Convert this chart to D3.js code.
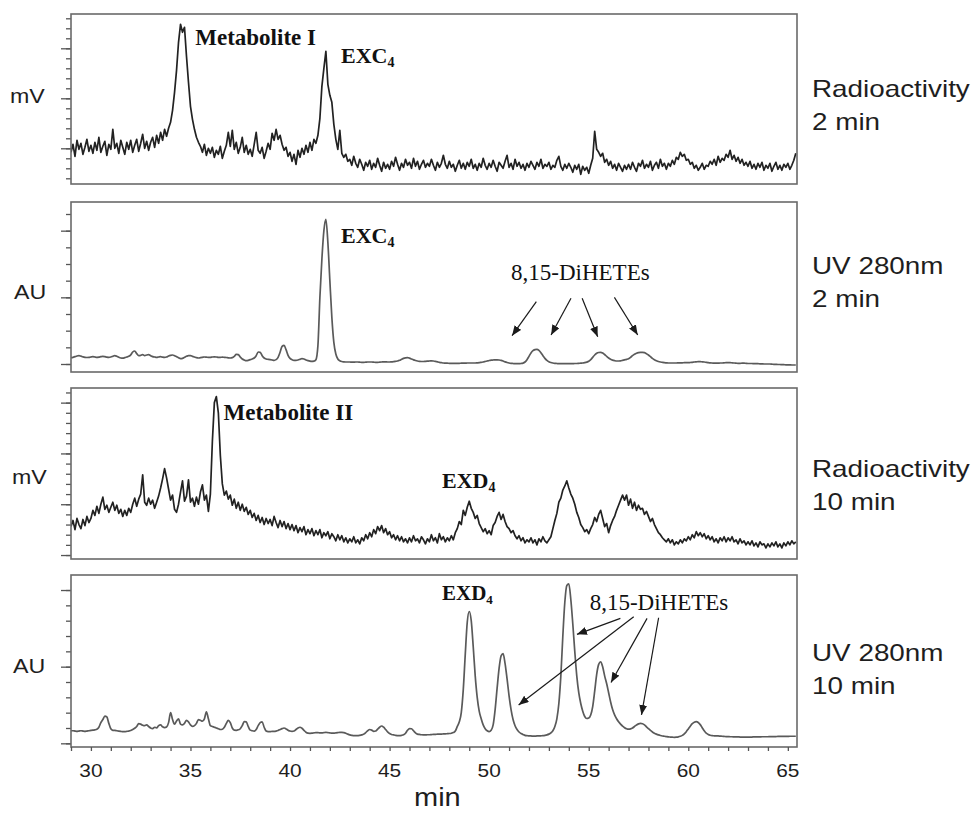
<!DOCTYPE html>
<html>
<head>
<meta charset="utf-8">
<script src="https://cdn.jsdelivr.net/npm/d3@7"></script>
<style>
  body { margin: 0; background: #fff; }
  svg { display: block; }
</style>
</head>
<body>
<svg id="chart" width="972" height="814"></svg>
<script>
// Retention-time grid shared by all four traces (minutes)
const timeStart = 29.0;
const timeStep = 0.1;

// Radioactivity detector, 2 min incubation (mV, arbitrary scale)
const radio2min = [
  2.6, 3.4, 2.2, 3.8, 2.9, 3.5, 2.4, 3.1, 3.9, 2.7,
  3.3, 2.5, 3.6, 2.8, 4.1, 2.6, 3.2, 3.7, 2.3, 3.4,
  2.9, 4.9, 3.0, 3.5, 2.5, 3.8, 3.1, 2.4, 3.6, 2.9,
  3.8, 2.6, 3.3, 3.9, 2.7, 3.5, 4.4, 3.0, 3.7, 2.8,
  3.6, 4.1, 3.1, 4.3, 3.5, 4.6, 3.8, 4.9, 4.2, 5.0,
  5.6, 6.8, 8.6, 10.8, 13.6, 15.4, 14.6, 15.1, 12.2, 9.6,
  7.2, 5.9, 4.9, 4.1, 3.6, 3.2, 2.6, 3.4, 2.3, 3.0,
  2.5, 3.1, 2.1, 2.8, 2.4, 3.2, 2.0, 2.7, 3.3, 4.6,
  3.2, 4.8, 2.9, 3.6, 2.5, 3.1, 4.1, 2.6, 3.3, 2.4,
  2.9, 2.2, 3.4, 4.6, 2.8, 2.5, 3.1, 2.0, 2.7, 3.5,
  2.9, 4.5, 3.8, 4.9, 3.9, 4.3, 3.4, 2.8, 3.1, 2.2,
  2.6, 1.7, 2.4, 1.4, 2.8, 2.1, 3.0, 2.4, 3.3, 2.6,
  3.6, 2.8, 3.9, 3.5, 4.3, 6.0, 9.2, 11.0, 12.7, 9.4,
  8.3, 7.6, 5.4, 3.9, 2.9, 4.8, 2.5, 2.1, 2.4, 1.7,
  1.9, 1.3, 2.2, 1.5, 1.1, 1.9, 1.4, 0.8, 1.6, 1.2,
  1.8, 0.9, 1.5, 1.1, 2.0, 1.3, 0.7, 1.6, 1.0, 1.4,
  0.9, 1.7, 1.2, 2.1, 1.4, 0.8, 1.5, 1.1, 1.9, 1.3,
  1.6, 1.0, 2.0, 1.2, 1.7, 0.9, 1.4, 1.8, 1.1, 1.5,
  1.2, 1.9, 1.3, 0.8, 1.6, 1.1, 1.5, 2.3, 1.4, 1.0,
  1.7, 1.1, 1.4, 0.7, 1.3, 1.8, 1.0, 1.5, 0.9, 1.6,
  1.2, 1.9, 1.0, 1.4, 0.8, 1.5, 1.1, 2.0, 1.3, 0.9,
  1.5, 1.1, 1.8, 1.2, 0.7, 1.6, 1.3, 1.0, 1.7, 2.3,
  1.1, 1.5, 0.9, 1.9, 1.2, 1.6, 1.0, 1.4, 0.8, 1.5,
  1.1, 1.7, 1.3, 0.9, 1.6, 1.2, 1.9, 1.0, 1.4, 1.2,
  1.6, 0.9, 1.3, 1.1, 1.8, 2.2, 1.2, 0.8, 1.4, 1.0,
  1.5, 1.1, 0.6, 1.3, 0.9, 1.4, 0.4, 1.2, 0.8, 1.1,
  0.5, 1.3, 2.0, 4.7, 2.9, 2.6, 2.2, 2.5, 1.6, 1.9,
  1.3, 1.7, 1.0, 1.4, 0.8, 1.5, 1.1, 0.7, 1.3, 0.9,
  1.4, 0.9, 1.6, 1.1, 0.7, 1.5, 1.2, 1.8, 1.0, 1.4,
  1.1, 1.7, 0.8, 1.3, 1.6, 1.0, 1.9, 1.2, 1.5, 0.9,
  1.5, 1.2, 1.8, 1.4, 2.1, 1.9, 2.6, 2.2, 2.4, 1.8,
  1.9, 1.4, 1.6, 1.0, 1.3, 0.8, 1.1, 1.5, 0.9, 1.3,
  1.2, 1.7, 1.4, 1.9, 1.3, 2.2, 1.6, 2.0, 1.8, 2.4,
  2.1, 2.8, 1.9, 2.3, 1.7, 2.1, 1.5, 1.9, 1.3, 1.6,
  1.2, 1.7, 1.0, 1.4, 0.9, 1.5, 1.1, 1.6, 0.8, 1.3,
  1.0, 1.5, 0.7, 1.2, 1.6, 0.9, 1.3, 0.8, 1.4, 1.1,
  1.5, 0.9, 1.3, 1.8, 2.5
];

// UV absorbance at 280 nm, 2 min incubation (AU, arbitrary scale)
const uv2min = [
  0.38, 0.40, 0.44, 0.48, 0.50, 0.47, 0.43, 0.40, 0.39, 0.40,
  0.42, 0.44, 0.42, 0.40, 0.41, 0.44, 0.46, 0.44, 0.41, 0.40,
  0.42, 0.46, 0.50, 0.46, 0.40, 0.36, 0.35, 0.38, 0.42, 0.46,
  0.55, 0.72, 0.78, 0.62, 0.50, 0.52, 0.56, 0.50, 0.54, 0.56,
  0.50, 0.44, 0.42, 0.40, 0.42, 0.44, 0.41, 0.40, 0.42, 0.48,
  0.52, 0.54, 0.50, 0.44, 0.38, 0.32, 0.34, 0.40, 0.46, 0.50,
  0.50, 0.46, 0.42, 0.38, 0.36, 0.38, 0.40, 0.42, 0.41, 0.40,
  0.40, 0.42, 0.43, 0.42, 0.40, 0.40, 0.41, 0.40, 0.39, 0.37,
  0.36, 0.38, 0.46, 0.58, 0.56, 0.42, 0.30, 0.24, 0.20, 0.22,
  0.26, 0.30, 0.36, 0.50, 0.72, 0.70, 0.50, 0.36, 0.30, 0.28,
  0.26, 0.24, 0.22, 0.26, 0.40, 0.70, 1.06, 1.12, 0.86, 0.52,
  0.34, 0.26, 0.22, 0.22, 0.24, 0.28, 0.32, 0.30, 0.24, 0.20,
  0.17, 0.16, 0.17, 0.26, 1.10, 4.00, 6.30, 8.00, 8.68, 7.30,
  5.00, 2.80, 1.30, 0.60, 0.30, 0.20, 0.15, 0.13, 0.12, 0.12,
  0.12, 0.11, 0.11, 0.12, 0.12, 0.11, 0.10, 0.10, 0.11, 0.12,
  0.12, 0.12, 0.11, 0.10, 0.10, 0.11, 0.12, 0.13, 0.13, 0.12,
  0.12, 0.13, 0.14, 0.16, 0.18, 0.22, 0.28, 0.34, 0.37, 0.38,
  0.35, 0.30, 0.25, 0.21, 0.18, 0.16, 0.15, 0.15, 0.16, 0.17,
  0.18, 0.19, 0.18, 0.16, 0.13, 0.10, 0.08, 0.06, 0.05, 0.05,
  0.04, 0.04, 0.04, 0.04, 0.04, 0.04, 0.05, 0.05, 0.05, 0.06,
  0.06, 0.06, 0.06, 0.06, 0.07, 0.08, 0.10, 0.12, 0.15, 0.18,
  0.21, 0.23, 0.24, 0.25, 0.25, 0.24, 0.22, 0.18, 0.13, 0.09,
  0.06, 0.04, 0.03, 0.02, 0.02, 0.02, 0.03, 0.05, 0.12, 0.26,
  0.46, 0.66, 0.80, 0.86, 0.88, 0.82, 0.68, 0.50, 0.34, 0.22,
  0.14, 0.09, 0.06, 0.04, 0.03, 0.02, 0.02, 0.02, 0.02, 0.02,
  0.02, 0.02, 0.02, 0.03, 0.03, 0.04, 0.05, 0.06, 0.08, 0.11,
  0.16, 0.26, 0.40, 0.54, 0.64, 0.69, 0.70, 0.66, 0.57, 0.46,
  0.36, 0.28, 0.23, 0.20, 0.18, 0.18, 0.19, 0.22, 0.25, 0.28,
  0.32, 0.40, 0.50, 0.58, 0.64, 0.68, 0.70, 0.70, 0.68, 0.62,
  0.54, 0.44, 0.34, 0.26, 0.20, 0.15, 0.12, 0.10, 0.08, 0.07,
  0.06, 0.06, 0.06, 0.06, 0.06, 0.07, 0.07, 0.07, 0.08, 0.08,
  0.08, 0.09, 0.10, 0.12, 0.13, 0.14, 0.14, 0.13, 0.12, 0.10,
  0.08, 0.07, 0.06, 0.05, 0.05, 0.05, 0.06, 0.06, 0.07, 0.08,
  0.08, 0.08, 0.07, 0.06, 0.05, 0.04, 0.04, 0.05, 0.05, 0.04,
  0.03, 0.03, 0.03, 0.02, 0.02, 0.02, 0.01, 0.01, 0.00, 0.00,
  0.00, 0.00, -0.01, -0.02, -0.02, -0.03, -0.03, -0.04, -0.04, -0.05,
  -0.05, -0.05, -0.06, -0.06, -0.06
];

// Radioactivity detector, 10 min incubation (mV, arbitrary scale)
const radio10min = [
  2.8, 3.4, 2.5, 3.6, 3.0, 2.6, 3.5, 2.9, 3.8, 3.2,
  3.6, 4.4, 3.9, 4.8, 4.1, 5.0, 5.7, 4.5, 4.9, 4.2,
  4.7, 5.2, 4.4, 4.9, 4.1, 4.5, 3.8, 4.4, 3.9, 4.6,
  4.2, 5.0, 5.6, 4.8, 5.5, 6.0, 7.9, 5.2, 4.9, 5.6,
  5.0, 5.4, 4.6, 5.2, 5.8, 6.6, 7.5, 8.5, 7.6, 6.5,
  5.4, 5.9, 4.5, 4.2, 5.0, 6.2, 7.3, 5.3, 5.8, 7.4,
  5.2, 5.6, 4.8, 5.7, 5.0, 6.2, 6.9, 5.4, 5.9, 4.3,
  6.0, 11.2, 15.0, 15.6, 14.0, 9.8, 7.0, 5.9, 6.3, 5.5,
  5.9, 4.9, 5.5, 4.6, 5.2, 4.4, 5.0, 4.3, 4.7, 4.0,
  4.4, 3.7, 4.1, 3.4, 3.9, 3.2, 3.7, 3.0, 3.6, 3.1,
  3.5, 2.9, 3.8, 3.2, 2.7, 3.4, 2.8, 3.3, 2.6, 3.1,
  2.5, 3.0, 2.4, 2.9, 2.2, 2.7, 2.3, 2.8, 2.0, 2.5,
  2.1, 2.6, 1.9, 2.4, 2.0, 2.5, 1.7, 2.2, 1.9, 2.3,
  1.6, 2.1, 1.8, 1.4, 2.0, 1.5, 1.9, 1.3, 1.7, 1.2,
  1.6, 1.3, 1.8, 1.2, 1.5, 1.1, 1.7, 1.4, 2.0, 1.6,
  2.2, 1.8, 2.5, 2.1, 2.8, 2.4, 2.9, 2.2, 2.6, 2.0,
  2.3, 1.7, 2.0, 1.5, 1.9, 1.4, 1.8, 1.3, 1.6, 1.2,
  1.7, 1.3, 1.9, 1.4, 1.6, 1.2, 1.8, 1.5, 1.1, 1.6,
  1.3, 2.0, 1.4, 1.7, 1.2, 2.1, 1.5, 1.8, 1.3, 1.7,
  1.4, 1.9, 1.5, 2.2, 2.6, 3.3, 3.0, 4.4, 3.9, 4.7,
  5.3, 4.6, 4.2, 3.6, 3.9, 3.1, 2.7, 2.3, 2.6, 2.1,
  2.4, 2.0, 2.9, 3.2, 3.8, 4.2, 3.5, 4.0, 3.3, 2.8,
  2.6, 2.2, 2.4, 1.9, 1.6, 1.9, 1.4, 1.7, 1.2, 1.5,
  1.3, 1.7, 1.2, 1.5, 1.0, 1.6, 1.3, 1.8, 1.4, 1.2,
  1.5, 1.8, 2.6, 3.4, 4.1, 5.2, 5.6, 6.4, 6.8, 7.3,
  6.6, 6.0, 5.6, 5.0, 4.2, 3.7, 3.0, 2.7, 2.3, 2.5,
  2.1, 2.6, 3.0, 3.7, 3.3, 4.0, 4.4, 3.6, 2.8, 3.1,
  2.2, 2.9, 3.4, 3.8, 4.4, 4.9, 5.4, 5.9, 5.4, 5.9,
  4.9, 5.5, 4.6, 5.2, 4.4, 4.9, 4.5, 4.6, 4.0, 4.3,
  3.8, 3.3, 3.6, 3.0, 2.6, 2.2, 2.0, 1.7, 1.5, 1.3,
  1.6, 1.2, 1.5, 1.0, 1.3, 1.1, 1.5, 1.2, 1.6, 1.4,
  1.8, 1.5, 2.0, 1.7, 2.3, 1.9, 2.2, 1.8, 2.1, 1.6,
  1.9, 1.5, 1.8, 1.3, 1.6, 1.2, 1.7, 1.4, 1.8, 1.3,
  1.7, 1.4, 1.8, 1.3, 1.5, 1.1, 1.6, 1.2, 1.4, 1.0,
  1.3, 1.0, 1.4, 0.9, 1.2, 0.8, 1.3, 1.0, 1.1, 0.7,
  1.1, 0.8, 1.2, 0.9, 1.3, 0.8, 1.1, 0.7, 1.2, 0.9,
  1.3, 1.0, 1.4, 1.1, 1.3
];

// UV absorbance at 280 nm, 10 min incubation (AU, arbitrary scale)
const uv10min = [
  0.82, 0.82, 0.80, 0.78, 0.80, 0.82, 0.80, 0.78, 0.80, 0.82,
  0.84, 0.86, 0.88, 0.92, 1.05, 1.35, 1.55, 1.78, 1.72, 1.30,
  0.95, 0.85, 0.84, 0.82, 0.80, 0.78, 0.76, 0.76, 0.78, 0.80,
  0.84, 0.90, 0.98, 1.10, 1.28, 1.25, 1.18, 1.15, 1.20, 1.10,
  1.00, 0.96, 1.05, 1.00, 1.15, 1.20, 1.08, 1.02, 1.06, 1.35,
  2.00, 1.55, 1.25, 1.45, 1.60, 1.25, 1.20, 1.30, 1.50, 1.40,
  1.20, 1.10, 1.15, 1.30, 1.55, 1.50, 1.45, 1.60, 2.05, 1.60,
  1.15, 1.10, 1.05, 1.00, 0.95, 0.90, 0.92, 1.05, 1.30, 1.50,
  1.35, 1.00, 0.86, 0.85, 0.88, 0.95, 1.15, 1.42, 1.40, 1.10,
  0.86, 0.82, 0.80, 0.90, 1.15, 1.35, 1.40, 1.05, 0.80, 0.76,
  0.76, 0.78, 0.78, 0.80, 0.84, 0.90, 0.96, 1.00, 0.94, 0.86,
  0.80, 0.78, 0.80, 0.90, 1.00, 1.05, 0.98, 0.85, 0.72, 0.66,
  0.65, 0.66, 0.68, 0.70, 0.70, 0.68, 0.68, 0.70, 0.72, 0.70,
  0.68, 0.66, 0.66, 0.68, 0.70, 0.72, 0.72, 0.70, 0.66, 0.60,
  0.55, 0.52, 0.50, 0.50, 0.50, 0.52, 0.55, 0.60, 0.70, 0.82,
  0.90, 0.86, 0.78, 0.80, 0.92, 1.05, 1.13, 1.05, 0.90, 0.75,
  0.64, 0.58, 0.55, 0.52, 0.50, 0.50, 0.52, 0.56, 0.66, 0.85,
  0.96, 0.95, 0.82, 0.68, 0.60, 0.58, 0.56, 0.55, 0.55, 0.56,
  0.56, 0.57, 0.58, 0.58, 0.60, 0.60, 0.60, 0.62, 0.62, 0.63,
  0.64, 0.66, 0.70, 0.80, 1.10, 1.40, 2.00, 3.50, 5.80, 7.90,
  8.60, 8.00, 6.30, 4.40, 3.00, 2.10, 1.60, 1.20, 0.95, 0.82,
  0.76, 0.85, 1.20, 2.20, 3.60, 4.90, 5.70, 5.85, 5.20, 4.20,
  3.10, 2.20, 1.55, 1.15, 0.90, 0.74, 0.64, 0.58, 0.52, 0.50,
  0.48, 0.48, 0.47, 0.47, 0.48, 0.48, 0.49, 0.50, 0.52, 0.55,
  0.60, 0.68, 0.82, 1.10, 1.60, 2.60, 4.40, 7.00, 9.20, 10.30,
  10.40, 9.40, 7.80, 6.00, 4.40, 3.30, 2.60, 2.10, 1.75, 1.62,
  1.65, 1.85, 2.40, 3.40, 4.50, 5.15, 5.32, 5.00, 4.40, 3.90,
  3.30, 2.70, 2.20, 1.85, 1.60, 1.40, 1.25, 1.12, 1.02, 0.95,
  0.92, 0.94, 1.00, 1.10, 1.20, 1.27, 1.30, 1.28, 1.20, 1.08,
  0.96, 0.84, 0.74, 0.66, 0.60, 0.55, 0.51, 0.48, 0.46, 0.44,
  0.42, 0.41, 0.40, 0.39, 0.40, 0.42, 0.46, 0.52, 0.62, 0.76,
  0.94, 1.12, 1.28, 1.38, 1.41, 1.36, 1.22, 1.02, 0.82, 0.66,
  0.58, 0.53, 0.50, 0.49, 0.48, 0.48, 0.47, 0.46, 0.45, 0.44,
  0.44, 0.43, 0.43, 0.42, 0.42, 0.42, 0.41, 0.41, 0.41, 0.41,
  0.41, 0.41, 0.41, 0.42, 0.42, 0.42, 0.42, 0.43, 0.43, 0.43,
  0.43, 0.44, 0.44, 0.44, 0.44, 0.45, 0.45, 0.45, 0.45, 0.45,
  0.45, 0.46, 0.46, 0.46, 0.46
];

// Axis ticks and labels
const timeDomain = [29, 65.46];
const timeMinorTicks = d3.range(29, 66, 1);
const timeTickLabels = [30, 35, 40, 45, 50, 55, 60, 65];
const timeAxisTitle = "min";

// Panel detector titles and units
const panelTitles = [
  ["Radioactivity", "2 min"],
  ["UV 280nm", "2 min"],
  ["Radioactivity", "10 min"],
  ["UV 280nm", "10 min"]
];
const panelUnits = ["mV", "AU", "mV", "AU"];
const panelYDomains = [[-0.57, 16.43], [-0.48, 9.72], [-0.39, 16.44], [-0.24, 10.98]];
const panelMinorTicks = [d3.range(0, 17), d3.range(0, 10), d3.range(0, 17), d3.range(0, 11)];
const panelMajorTicks = [[3, 8, 13], [0, 4, 8], [0, 5, 10, 15], [0, 5, 10]];

// Peak labels: [panel, time, signal, text, subscript, font size, weight, anchor]
const peakLabels = [
  [0, 35.24, 13.33, "Metabolite I", "", 23, "bold", "start"],
  [0, 42.56, 11.5, "EXC", "4", 22, "bold", "start"],
  [1, 42.56, 7.24, "EXC", "4", 22, "bold", "start"],
  [1, 54.58, 5.04, "8,15-DiHETEs", "", 23, "normal", "middle"],
  [2, 36.66, 13.3, "Metabolite II", "", 23, "bold", "start"],
  [2, 47.63, 6.56, "EXD", "4", 22, "bold", "start"],
  [3, 47.63, 9.35, "EXD", "4", 21, "bold", "start"],
  [3, 55.05, 8.7, "8,15-DiHETEs", "", 23, "normal", "start"]
];

// Arrows pointing at 8,15-DiHETE peaks: [panel, [t0, s0], [t1, s1]]
const peakArrows = [
  [1, [52.37, 3.74], [51.15, 1.70]],
  [1, [54.11, 3.94], [53.11, 1.74]],
  [1, [54.67, 3.94], [55.45, 1.64]],
  [1, [56.29, 4.00], [57.46, 1.74]],
  [3, [56.59, 8.15], [54.41, 7.11]],
  [3, [57.26, 8.26], [51.48, 2.50]],
  [3, [57.93, 8.15], [56.12, 3.97]],
  [3, [58.51, 8.19], [57.65, 1.85]]
];

const traces = [radio2min, uv2min, radio10min, uv10min];
const traceKinds = ["radio", "uv", "radio", "uv"];

// ---------------- layout ----------------
const frameLeft = 71, frameRight = 797;
const panelBoxes = [[14, 184], [202, 372], [388, 559], [575, 747]];
const titleBaselines = [97, 274, 477, 661];
const titleLineGap = 33;
const unitPositions = [[10, 103], [14, 299], [12, 484], [13, 673]];
const sansStretch = 1.16;
const SANS = "'Liberation Sans', Arial, sans-serif";
const SERIF = "'Liberation Serif', 'Times New Roman', serif";

const svg = d3.select("#chart");
const x = d3.scaleLinear().domain(timeDomain).range([frameLeft, frameRight]);

const defs = svg.append("defs");
defs.append("marker")
  .attr("id", "arrowhead")
  .attr("markerUnits", "userSpaceOnUse")
  .attr("viewBox", "0 0 10 8")
  .attr("refX", 10).attr("refY", 4)
  .attr("markerWidth", 10).attr("markerHeight", 8)
  .attr("orient", "auto")
  .append("path")
  .attr("d", "M0,0 L10,4 L0,8 Z")
  .attr("fill", "#1a1a1a");

function sansText(parent, px, py, str, size, anchor) {
  return parent.append("text")
    .attr("transform", `translate(${px},${py}) scale(${sansStretch},1)`)
    .attr("font-family", SANS)
    .attr("font-size", size)
    .attr("text-anchor", anchor || "start")
    .attr("fill", "#1e1e1e")
    .text(str);
}

traces.forEach((values, p) => {
  const [top, bottom] = panelBoxes[p];
  const y = d3.scaleLinear().domain(panelYDomains[p]).range([bottom, top]);
  const g = svg.append("g").attr("class", "panel");

  defs.append("clipPath").attr("id", "clip" + p)
    .append("rect")
    .attr("x", frameLeft).attr("y", top)
    .attr("width", frameRight - frameLeft).attr("height", bottom - top);

  // Y ticks: minor and major, pointing outward
  const minorAxis = d3.axisLeft(y).tickValues(panelMinorTicks[p]).tickSize(5).tickFormat("");
  const majorAxis = d3.axisLeft(y).tickValues(panelMajorTicks[p]).tickSize(10).tickFormat("");
  [minorAxis, majorAxis].forEach(ax => {
    const a = g.append("g").attr("transform", `translate(${frameLeft},0)`).call(ax);
    a.select(".domain").remove();
    a.selectAll("line").attr("stroke", "#555").attr("stroke-width", 1.3);
  });

  // Trace
  const isUV = traceKinds[p] === "uv";
  const points = values.map((v, i) => [timeStart + i * timeStep, v]);
  const line = d3.line()
    .x(d => x(d[0]))
    .y(d => y(d[1]))
    .curve(isUV ? d3.curveMonotoneX : d3.curveLinear);
  g.append("path")
    .datum(points)
    .attr("clip-path", `url(#clip${p})`)
    .attr("fill", "none")
    .attr("stroke", isUV ? "#5a5a5a" : "#222")
    .attr("stroke-width", isUV ? 1.7 : 1.7)
    .attr("stroke-linejoin", "round")
    .attr("d", line);

  // Frame
  g.append("rect")
    .attr("x", frameLeft).attr("y", top)
    .attr("width", frameRight - frameLeft).attr("height", bottom - top)
    .attr("fill", "none")
    .attr("stroke", "#6a6a6a")
    .attr("stroke-width", 1.6);

  // Unit label on the left
  sansText(svg, unitPositions[p][0], unitPositions[p][1], panelUnits[p], 20);

  // Detector title on the right
  panelTitles[p].forEach((txt, k) => {
    sansText(svg, 812, titleBaselines[p] + k * titleLineGap, txt, 24);
  });

  // Peak labels
  peakLabels.filter(l => l[0] === p).forEach(l => {
    const [, t, s, txt, sub, size, weight, anchor] = l;
    const el = g.append("text")
      .attr("x", x(t)).attr("y", y(s))
      .attr("font-family", SERIF)
      .attr("font-size", size)
      .attr("font-weight", weight)
      .attr("text-anchor", anchor)
      .attr("fill", "#111")
      .text(txt);
    if (sub) {
      el.append("tspan")
        .attr("font-size", Math.round(size * 0.62))
        .attr("dy", 4)
        .text(sub);
    }
  });

  // Arrows
  peakArrows.filter(a => a[0] === p).forEach(a => {
    g.append("line")
      .attr("x1", x(a[1][0])).attr("y1", y(a[1][1]))
      .attr("x2", x(a[2][0])).attr("y2", y(a[2][1]))
      .attr("stroke", "#1a1a1a")
      .attr("stroke-width", 1.2)
      .attr("marker-end", "url(#arrowhead)");
  });

  // Time axis under the last panel
  if (p === traces.length - 1) {
    const xa = g.append("g")
      .attr("transform", `translate(0,${bottom})`)
      .call(d3.axisBottom(x).tickValues(timeMinorTicks).tickSize(4).tickFormat(""));
    xa.select(".domain").remove();
    xa.selectAll("line").attr("stroke", "#555").attr("stroke-width", 1.3);
    timeTickLabels.forEach(v => sansText(svg, x(v), 777, String(v), 18, "middle"));
    sansText(svg, 414, 806, timeAxisTitle, 25);
  }
});
</script>
</body>
</html>
